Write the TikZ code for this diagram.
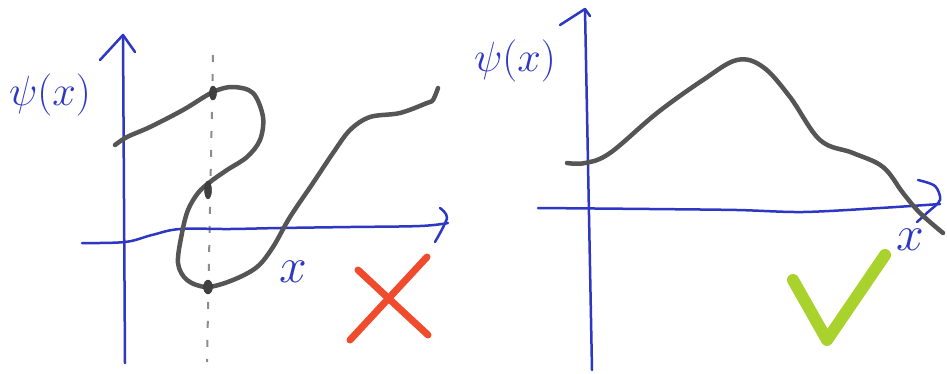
\documentclass[tikz,border=0pt]{standalone}
\usetikzlibrary{calc}
\definecolor{pen}{RGB}{45,55,195}
\definecolor{pencil}{RGB}{85,85,85}
\definecolor{redx}{RGB}{240,75,45}
\definecolor{greenv}{RGB}{170,210,45}
\tikzset{
  axisline/.style={draw=pen, line width=2.5pt, line cap=round, line join=round},
  curveline/.style={draw=pencil, line width=4.5pt, line cap=round, line join=round},
  dotmark/.style={fill=black!75, draw=black!80},
  lbl/.style={text=pen, inner sep=0pt, font=\Huge},
  guide/.style={draw=black!45, line width=2pt, dash pattern=on 7pt off 12pt},
}
\begin{document}
\begin{tikzpicture}[x=1pt,y=-1pt]
\useasboundingbox (0,0) rectangle (947,373);
\fill[white] (0,0) rectangle (947,373);

% ---------- left panel ----------
\draw[guide] (213,55) -- (207,362);
% y axis
\draw[axisline] (125,363) -- (123,35);
\draw[axisline] (100,60) -- (123,35) -- (135,52);
% x axis
\draw[axisline] plot[smooth, tension=0.6] coordinates {(82,243) (125,242) (152,235) (180,229) (230,229) (280,228) (350,227) (420,226) (448,223)};
\draw[axisline] plot[smooth] coordinates {(440,208) (447,218) (435,242)};
% multivalued curve
\draw[curveline] plot[smooth, tension=0.55] coordinates {
 (115,145) (127,137) (150,127) (183,110) (213,92) (233,87) (253,93) (263,117)
 (260,140) (247,157) (227,170) (210,182) (198,193) (188,210) (182,233) (178,263)
 (187,280) (207,287) (233,280) (257,267) (273,247) (290,217) (313,183) (333,153)
 (350,130) (370,117) (400,113) (427,103) (433,100) (438,88)};
\fill[dotmark] (213,93) ellipse (3.5pt and 7pt);
\fill[dotmark] (208,190) ellipse (3.5pt and 9pt);
\fill[dotmark] (208,287) ellipse (4.5pt and 7pt);
\node[lbl] (psiL) at (50,95) {\scalebox{1.7}{$\psi(x)$}};
\node[lbl] (xL) at (293,272) {\scalebox{2.0}{$x$}};
% red cross
\draw[draw=redx, line width=7pt, line cap=round] (358,270) -- (428,335);
\draw[draw=redx, line width=7pt, line cap=round] (427,257) -- (350,340);

% ---------- right panel ----------
% y axis
\draw[axisline] (592,370) -- (585,9);
\draw[axisline] (560,25) -- (585,9) -- (590,16);
% x axis
\draw[axisline] plot[smooth] coordinates {(538,208) (650,209) (737,210) (803,212) (880,208) (940,204)};
\draw[axisline] plot[smooth] coordinates {(918,180) (935,186) (940,200) (928,212) (917,222)};
% good curve
\draw[curveline] plot[smooth, tension=0.6] coordinates {
 (567,163) (585,163) (610,153) (657,113) (703,80) (737,60) (763,67) (790,97)
 (820,140) (853,153) (883,167) (903,193) (920,213) (943,233)};
\node[lbl] (psiR) at (515,61) {\scalebox{1.7}{$\psi(x)$}};
\node[lbl] (xR) at (910,240) {\scalebox{2.0}{$x$}};
% green check
\draw[draw=greenv, line width=12pt, line cap=round, line join=round] (793,280) -- (827,340) -- (885,255);
\end{tikzpicture}
\end{document}
